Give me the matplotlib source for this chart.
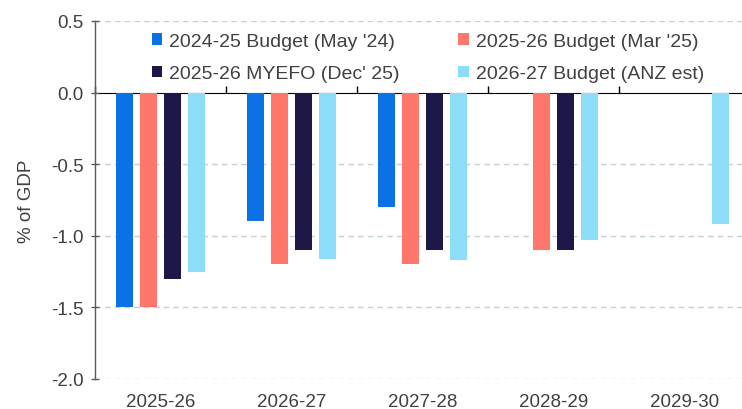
import numpy as np
import matplotlib
matplotlib.use("Agg")
import matplotlib.pyplot as plt

categories = ["2025-26", "2026-27", "2027-28", "2028-29", "2029-30"]
series_names = ["2024-25 Budget (May '24)", "2025-26 Budget (Mar '25)",
                "2025-26 MYEFO (Dec' 25)", "2026-27 Budget (ANZ est)"]
budget_2425 = [-1.5, -0.9, -0.8, np.nan, np.nan]
budget_2526 = [-1.5, -1.2, -1.2, -1.1, np.nan]
myefo_2526 = [-1.3, -1.1, -1.1, -1.1, np.nan]
budget_2627 = [-1.25, -1.16, -1.17, -1.03, -0.92]
colors = ["#0A72E4", "#FF766B", "#1E1848", "#8DDCF8"]
yticks = [0.5, 0.0, -0.5, -1.0, -1.5, -2.0]

TXT = "#404040"
plt.rcParams['font.family'] = ['Liberation Sans', 'DejaVu Sans']

fig = plt.figure(figsize=(7.42, 4.10), dpi=100)
ax = fig.add_axes([95/742, 1-380/410, 655/742, 358/410])

x = np.arange(len(categories))
pitch = 0.183
width = 0.134
series = [budget_2425, budget_2526, myefo_2526, budget_2627]
handles = []
for i, (vals, c, name) in enumerate(zip(series, colors, series_names)):
    b = ax.bar(x + (i - 1.5) * pitch, vals, width=width, color=c, label=name, zorder=3)
    handles.append(b)

ax.set_xlim(-0.5, len(categories) - 0.5)
ax.set_ylim(-2.0, 0.5)
ax.set_yticks(yticks)
ax.set_yticklabels([f"{v:.1f}" for v in yticks])
for v in yticks:
    if v != 0:
        ax.axhline(v, color="#C3CFD6", lw=1.0, ls=(0, (4, 3)), zorder=1)

ax.set_xticks(x)
ax.set_xticklabels(categories)
ax.tick_params(axis='x', length=0, pad=10, labelsize=13.5, labelcolor=TXT)
ax.tick_params(axis='y', direction='inout', length=6, width=1, color="#595959",
               labelsize=13.5, labelcolor=TXT, pad=5)
for s in ["top", "right", "bottom"]:
    ax.spines[s].set_visible(False)
ax.spines["left"].set_color("#595959")
ax.spines["left"].set_linewidth(1.0)

sec = ax.secondary_xaxis(0.8)
sec.set_xticks(np.arange(len(categories)) - 0.5)
sec.set_xticklabels([])
sec.tick_params(axis='x', direction='out', length=5, width=1, color="black")
sec.spines["bottom"].set_color("black")
sec.spines["bottom"].set_linewidth(1.2)
sec.spines["bottom"].set_zorder(5)

ax.set_ylabel("% of GDP", fontsize=13.5, color=TXT, labelpad=12)

order = [0, 2, 1, 3]
leg = ax.legend(handles=[handles[i] for i in order], ncol=2, loc="upper left",
                bbox_to_anchor=(0.06, 1.015),
                frameon=False, fontsize=14, handlelength=0.55, handleheight=0.55,
                handletextpad=0.35, columnspacing=3.0, labelspacing=0.78)
for t in leg.get_texts():
    t.set_color(TXT)

fig.savefig("out.png", dpi=100)
